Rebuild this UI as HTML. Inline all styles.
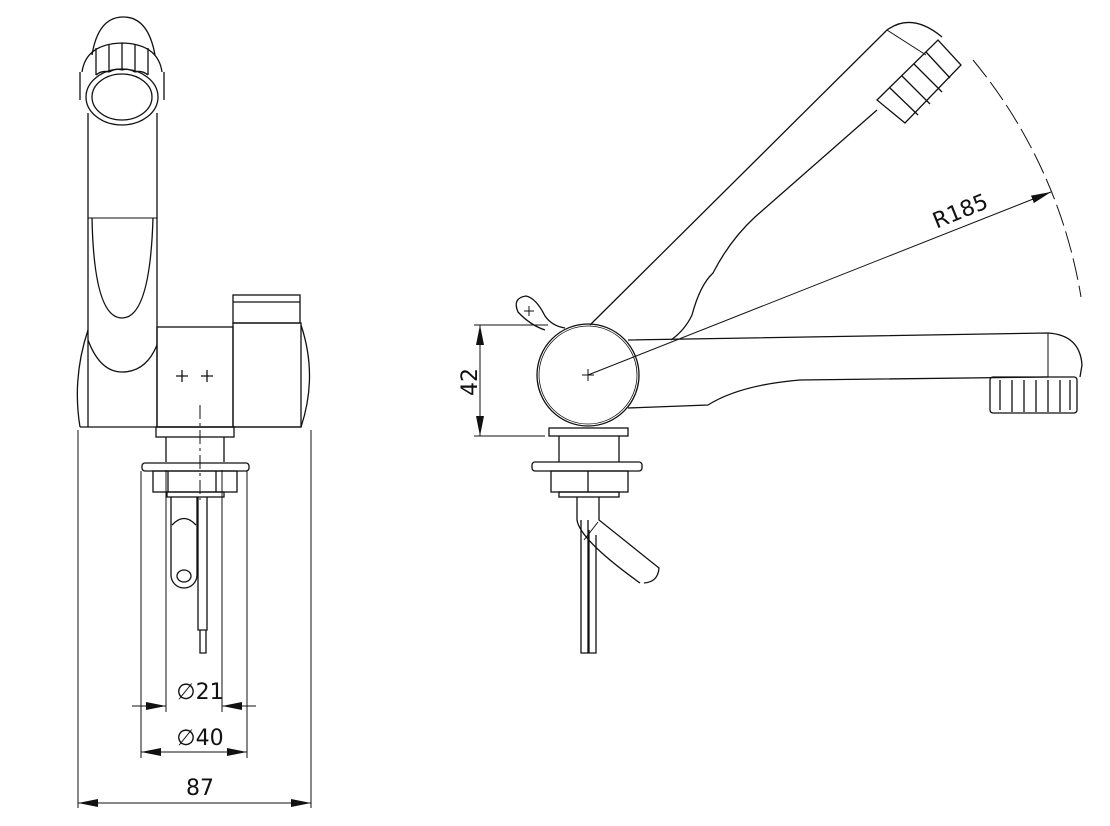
<!DOCTYPE html>
<html><head><meta charset="utf-8"><style>
html,body{margin:0;padding:0;background:#fff}
svg{display:block}
text{font-family:"DejaVu Sans","Liberation Sans",sans-serif;fill:#111}
</style></head><body>
<svg width="1110" height="826" viewBox="0 0 1110 826" xmlns="http://www.w3.org/2000/svg">
<defs>
<marker id="ar" viewBox="0 0 10 4" refX="10" refY="2" markerWidth="20" markerHeight="8" markerUnits="userSpaceOnUse" orient="auto-start-reverse"><path d="M0,0 L10,2 L0,4z" fill="#111"/></marker>
</defs>
<g fill="none" stroke="#111" stroke-width="1.3">
<!-- LEFT VIEW -->
<path d="M88,330 Q72,378 80,427"/>
<path d="M301,325 Q318,376 301,427"/>
<path d="M80,427 L301,427"/>
<path d="M88,113 L88,427"/>
<path d="M157,113 L157,427"/>
<path d="M92,55 Q98,18 122,17 Q148,16 155,55"/>
<path d="M82,72 Q86,44 122,43 Q158,44 162,72"/>
<path d="M80,72 L80,100 M164,72 L164,100"/>
<path d="M96,48 L96,75 M109,44 L109,72 M122,43 L122,70 M135,44 L135,72 M148,48 L148,75"/>
<path d="M96,75 Q102,70 109,72 M109,72 Q116,68 122,70 M122,70 Q128,68 135,72 M135,72 Q142,70 148,75"/>
<ellipse cx="122" cy="97" rx="36" ry="28"/>
<ellipse cx="122" cy="97" rx="30" ry="23"/>
<path d="M88,218 L157,218" stroke-width="1"/>
<path d="M92,218 Q94,318 122,318 Q150,318 153,218"/>
<path d="M88,340 Q100,372 122,372 Q146,372 157,345"/>
<rect x="157" y="327" width="76" height="100"/>
<rect x="233" y="323" width="68" height="104"/>
<rect x="233" y="295" width="67" height="28"/>
<path d="M233,302 L300,302"/>
<path d="M176,376 h12 M182,370 v12 M201,376 h12 M207,370 v12"/>
<rect x="156" y="427" width="78" height="10"/>
<path d="M166,437 V462 M224,437 V462"/>
<rect x="142" y="463" width="107" height="8" rx="3"/>
<rect x="153" y="471" width="84" height="21"/>
<path d="M168,471 V492 M216,471 V492"/>
<rect x="167" y="492" width="57" height="5"/>
<path d="M171,497 V575 A13,13 0 0 0 197,575 V497"/>
<path d="M172,525 Q184,512 196,525"/>
<ellipse cx="184" cy="576" rx="7" ry="6"/>
<path d="M198,497 V630 H207 V497 M200,630 V653 H206 V630"/>
<path d="M200,405 V500" stroke-dasharray="14,4,3,4" stroke-width="1"/>
<g stroke-width="1">
<path d="M166,470 V712 M222,470 V712 M141,471 V758 M247,471 V758 M78,430 V808 M311,430 V808"/>
<path d="M132,706 H166" marker-end="url(#ar)"/>
<path d="M256,706 H222" marker-end="url(#ar)"/>
<path d="M141,752 H247" marker-start="url(#ar)" marker-end="url(#ar)"/>
<path d="M78,803 H311" marker-start="url(#ar)" marker-end="url(#ar)"/>
</g>
<!-- RIGHT VIEW -->
<ellipse cx="588" cy="375" rx="51" ry="51"/>
<ellipse cx="588" cy="375" rx="49" ry="49" stroke-width="0.8"/>
<path d="M582,375 h12 M588,369 v12" stroke-width="1"/>
<path d="M545,330 Q530,325 518,312 Q512,298 526,296 Q536,298 545,316 Q552,326 565,328"/>
<path d="M524,311 h10 M529,306 v10" stroke-width="1"/>
<path d="M628,340 L1048,333 Q1080,335 1082,365 L1080,377"/>
<path d="M1048,333 V377" stroke-width="1"/>
<path d="M1048,377 L800,380 Q740,385 708,405 L628,408"/>
<rect x="990" y="377" width="87" height="36" rx="3"/>
<path d="M1000,380 V410 M1012,380 V412 M1024,380 V412 M1036,380 V412 M1048,380 V412 M1060,380 V412 M1070,380 V410"/>
<path d="M590,325 L887,30 Q912,12 942,37"/>
<path d="M887,30 L926,55" stroke-width="1"/>
<path d="M671,340 Q685,330 692,315 Q700,285 713,273 Q730,240 755,217 L877,110"/>
<path d="M877,100 L938,40 L961,65 L905,123 Z"/>
<path d="M890,88 L918,115 M902,76 L930,104 M914,64 L942,92 M926,52 L950,78"/>
<rect x="549" y="428" width="79" height="8"/>
<path d="M559,436 V462 M619,436 V462"/>
<rect x="532" y="462" width="110" height="9" rx="3"/>
<rect x="551" y="471" width="77" height="21"/>
<path d="M588,471 V492"/>
<rect x="559" y="492" width="60" height="5"/>
<path d="M577,497 V520 Q580,540 640,583 M599,497 V520 L659,568 Q658,582 644,583"/>
<path d="M598,522 L584,540" stroke-width="1"/>
<path d="M581,520 V653 H588 V520 M589,530 V653 H596 V535"/>
<g stroke-width="1">
<path d="M474,325 H548 M474,436 H545"/>
<path d="M480,325 V436" marker-start="url(#ar)" marker-end="url(#ar)"/>
<path d="M588,375 L1051,192" marker-end="url(#ar)"/>
<path d="M973,60 A498,498 0 0 1 1081,297" stroke-dasharray="22,6"/>
</g>
</g>
<text x="200" y="699" font-size="22" text-anchor="middle">∅21</text>
<text x="200" y="745" font-size="22" text-anchor="middle">∅40</text>
<text x="200" y="795" font-size="22" text-anchor="middle">87</text>
<text x="0" y="0" font-size="22" text-anchor="middle" transform="translate(477,382) rotate(-90)">42</text>
<text x="0" y="0" font-size="22" text-anchor="middle" transform="translate(963,218) rotate(-22)">R185</text>
</svg>
</body></html>
